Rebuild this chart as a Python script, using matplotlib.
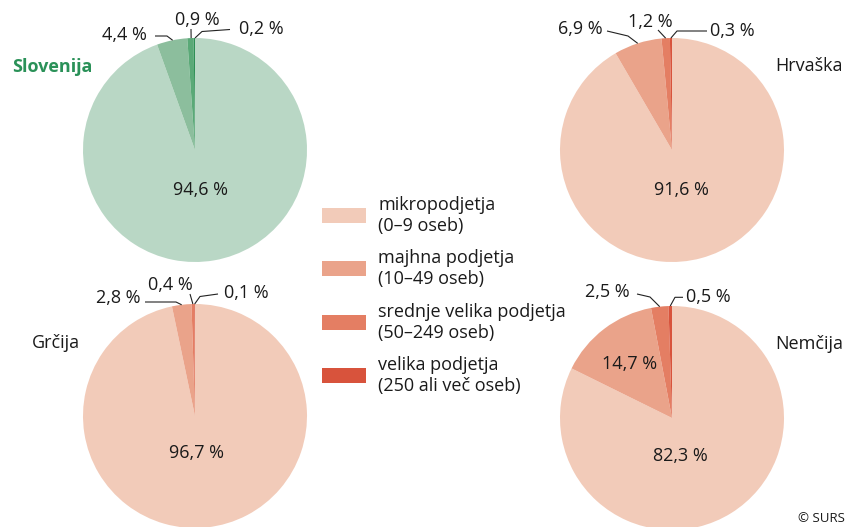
import matplotlib
matplotlib.use("Agg")
import matplotlib.pyplot as plt
from matplotlib.patches import Rectangle
import numpy as np

plt.rcParams['font.family'] = ['Open Sans', 'DejaVu Sans']

W, H = 855, 527

# Shares of enterprises by size class (%)
size_classes = ["mikropodjetja\n(0–9 oseb)",
                "majhna podjetja\n(10–49 oseb)",
                "srednje velika podjetja\n(50–249 oseb)",
                "velika podjetja\n(250 ali več oseb)"]
countries = ["Slovenija", "Hrvaška", "Grčija", "Nemčija"]
slovenija = [94.6, 4.4, 0.9, 0.2]
hrvaska = [91.6, 6.9, 1.2, 0.3]
grcija = [96.7, 2.8, 0.4, 0.1]
nemcija = [82.3, 14.7, 2.5, 0.5]
shares = [slovenija, hrvaska, grcija, nemcija]

green = ["#b9d7c5", "#8cbe9d", "#5aa977", "#2e8f55"]
orange = ["#f2cbb9", "#eaa38a", "#e47e63", "#d8533c"]
palettes = [green, orange, orange, orange]

TEXT = "#1a1a1a"
FS = 13


def P(x, y):
    """Pixel position (origin top-left) to axes data coordinates."""
    return (x, H - y)


def fmt(v):
    return f"{v:.1f}".replace(".", ",") + " %"


# layout of each pie: centre, radius, name label, labels inside wedges,
# outside labels (slice index -> text centre, leader-line bend points)
layout = [
    dict(center=(195, 150), r=112,
         name=(12, 67, "left"), name_style=dict(color="#2a9158", fontweight="bold"),
         inside={0: (200, 190)},
         outside={1: ((124, 35), [(155, 36), (167, 36)]),
                  2: ((197, 20), [(191, 29)]),
                  3: ((261, 29), [(230, 29.5), (202, 31.5)])}),
    dict(center=(672, 150), r=112,
         name=(843, 66, "right"), name_style=dict(color=TEXT),
         inside={0: (681, 190)},
         outside={1: ((580, 29), [(607, 31), (628, 36)]),
                  2: ((650, 22), [(658, 30)]),
                  3: ((732, 31), [(707, 31), (677, 31)])}),
    dict(center=(195, 416), r=112,
         name=(80, 343, "right"), name_style=dict(color=TEXT),
         inside={0: (196, 453)},
         outside={1: ((118, 298), [(145, 302), (176, 302)]),
                  2: ((170, 285), [(190, 294)]),
                  3: ((246, 293), [(218, 294), (200, 296.5)])}),
    dict(center=(672, 418), r=112,
         name=(843, 344, "right"), name_style=dict(color=TEXT),
         inside={0: (680, 456), 1: (630, 364)},
         outside={2: ((607, 292), [(637, 294), (650, 297)]),
                  3: ((708, 297), [(683, 297.3), (675, 297.3)])}),
]

fig = plt.figure(figsize=(W / 100, H / 100), dpi=100)
ax = fig.add_axes([0, 0, 1, 1])

for vals, cols, lay, name in zip(shares, palettes, layout, countries):
    cx, cy = lay["center"]
    r = lay["r"]
    ax.pie(vals, colors=cols, startangle=90, counterclock=False,
           center=P(cx, cy), radius=r,
           wedgeprops=dict(linewidth=0.3, edgecolor="none", antialiased=True))

    # cumulative angles (clockwise from the top)
    ends = 90 - np.cumsum(vals) * 3.6
    starts = np.concatenate([[90], ends[:-1]])
    mids = (starts + ends) / 2

    for i, (tx, ty) in lay["inside"].items():
        ax.text(*P(tx, ty), fmt(vals[i]), ha="center", va="center",
                fontsize=FS, color=TEXT)

    for i, ((tx, ty), bends) in lay["outside"].items():
        ang = np.deg2rad(mids[i])
        ex = cx + r * np.cos(ang)
        ey = cy - r * np.sin(ang)
        pts = [P(x, y) for x, y in bends] + [P(ex, ey)]
        xs, ys = zip(*pts)
        ax.plot(xs, ys, color="#222222", lw=0.8, solid_capstyle="butt")
        ax.text(*P(tx, ty), fmt(vals[i]), ha="center", va="center",
                fontsize=FS, color=TEXT)

    nx, ny, nha = lay["name"]
    ax.text(*P(nx, ny), name, ha=nha, va="center", fontsize=FS,
            **lay["name_style"])

# legend
leg_y = [215.5, 268.5, 322.5, 375.5]
for label, col, y in zip(size_classes, orange, leg_y):
    x0, y0 = P(322, y + 7.5)
    ax.add_patch(Rectangle((x0, y0), 44, 15, facecolor=col, edgecolor="none"))
    ax.text(*P(378, y), label, ha="left", va="center", fontsize=FS,
            color=TEXT, linespacing=1.15)

ax.text(*P(845, 518), "© SURS", ha="right", va="center", fontsize=9.5,
        color=TEXT)

ax.set_xlim(0, W)
ax.set_ylim(0, H)
ax.set_aspect("equal")
ax.axis("off")

fig.savefig("out.png", dpi=100)
